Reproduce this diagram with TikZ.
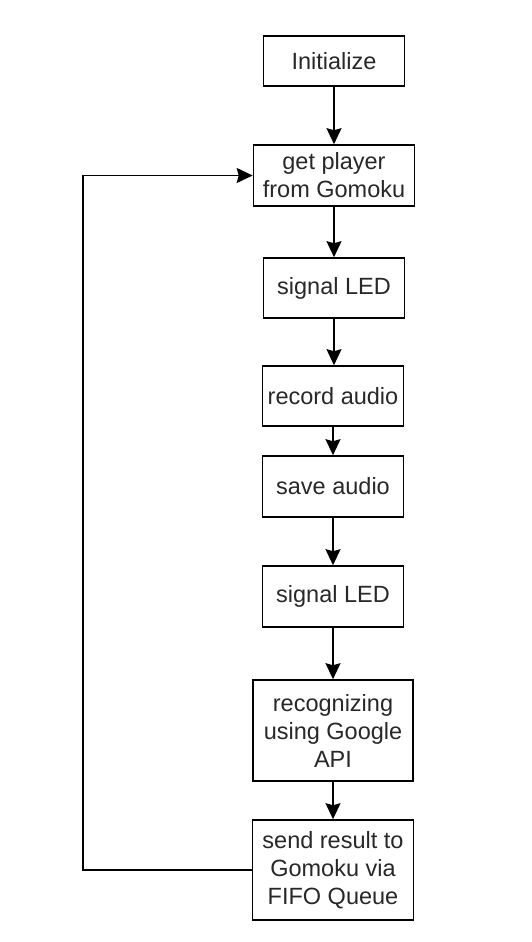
\documentclass[tikz,border=0pt]{standalone}
\usepackage{fontspec}
\setmainfont{Liberation Sans}
\usepackage{xcolor}
\usepackage{tikz}
\usetikzlibrary{positioning, calc, arrows.meta}
\definecolor{boxline}{RGB}{0, 0, 0}
\definecolor{boxtext}{RGB}{40, 40, 40}
\tikzset{
    stepbox/.style={
        draw=boxline, line width=1.6pt, fill=white, align=center,
        text=boxtext, inner sep=0pt, minimum width=141pt, minimum height=60pt,
        font=\fontsize{23.5}{28}\selectfont
    },
    widebox/.style={
        stepbox, minimum width=161pt
    },
    flowptr/.style={
        -{Stealth[length=16pt, width=15pt, inset=2pt]}, line width=1.6pt, boxline
    }
}

\begin{document}
\begin{tikzpicture}[x=1pt, y=-1pt]
    % --- KHUNG ---
    \useasboundingbox (0,0) rectangle (532,942);

    % --- CAC BUOC ---
    \node[stepbox, minimum height=50pt] (init) at (334,61) {Initialize};
    \node[widebox, minimum height=61pt] (getplayer) at (334,175.5) {get player\\from Gomoku};
    \node[stepbox] (ledone) at (334,288) {signal LED};
    \node[stepbox] (record) at (333,396) {record audio};
    \node[stepbox, minimum height=61pt] (save) at (333,486.5) {save audio};
    \node[stepbox, minimum height=61pt] (ledtwo) at (333,596.5) {signal LED};
    \node[widebox, minimum width=160pt, minimum height=101pt] (recog) at (333,730.5) {recognizing\\using Google\\API};
    \node[widebox, minimum height=100pt] (send) at (333,870) {send result to\\Gomoku via\\FIFO Queue};

    % --- MUI TEN ---
    \draw[flowptr] (init) -- (getplayer);
    \draw[flowptr] (getplayer) -- (ledone);
    \draw[flowptr] (ledone.south) -- (ledone.south |- record.north);
    \draw[flowptr] (record) -- (save);
    \draw[flowptr] (save) -- (ledtwo);
    \draw[flowptr] (ledtwo) -- (recog);
    \draw[flowptr] (recog) -- (send);

    % --- VONG LAP ---
    \coordinate (turn) at (83,870);
    \draw[flowptr] (send.west) -- (turn) |- (getplayer.west);
\end{tikzpicture}
\end{document}
